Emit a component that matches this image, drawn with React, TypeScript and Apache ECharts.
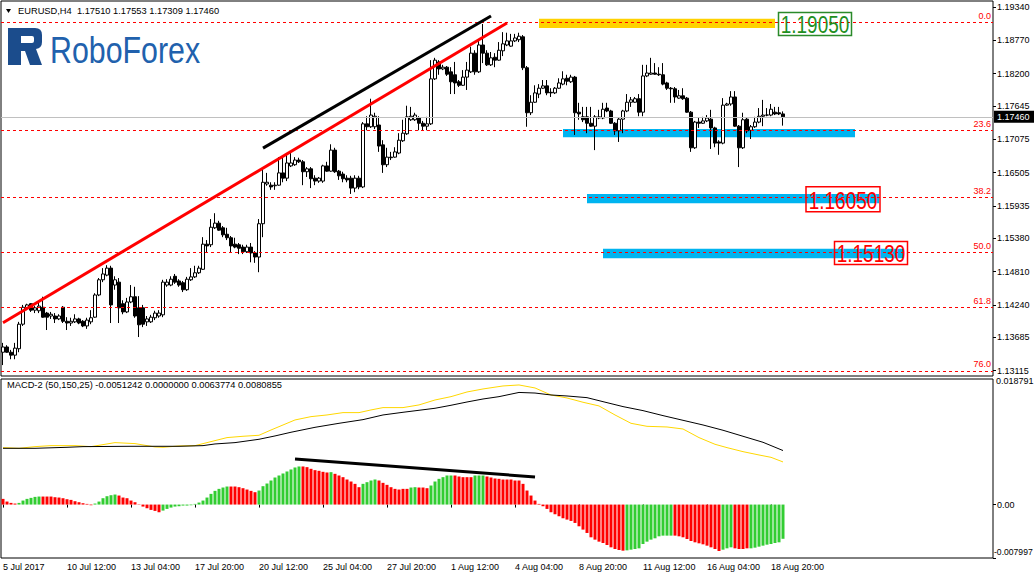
import React, { useEffect, useRef } from "react";
import * as echarts from "echarts";

const FONT = "'Liberation Sans', Arial, sans-serif";
const FS = 9;

// ---------- DATA ----------
// EURUSD H4 candles: [open, high, low, close]
const candles: number[][] = [
  [1.1343,1.1359,1.1321,1.1352],[1.1352,1.1355,1.1342,1.1343],[1.1343,1.1347,1.1331,1.1338],[1.1338,1.1359,1.1331,1.1350],
  [1.1349,1.1395,1.1343,1.1391],[1.1391,1.1424,1.1388,1.1420],[1.1419,1.1426,1.1415,1.1424],[1.1426,1.1427,1.1412,1.1415],
  [1.1415,1.1422,1.1410,1.1419],[1.1414,1.1429,1.1410,1.1422],[1.1420,1.1438,1.1402,1.1403],[1.1410,1.1412,1.1381,1.1403],
  [1.1405,1.1412,1.1400,1.1408],[1.1405,1.1410,1.1393,1.1400],[1.1400,1.1408,1.1398,1.1405],[1.1420,1.1422,1.1393,1.1396],
  [1.1396,1.1403,1.1381,1.1393],[1.1393,1.1402,1.1388,1.1396],[1.1395,1.1408,1.1393,1.1400],[1.1400,1.1402,1.1391,1.1393],
  [1.1396,1.1398,1.1386,1.1388],[1.1388,1.1402,1.1383,1.1398],[1.1395,1.1415,1.1391,1.1402],[1.1403,1.1444,1.1402,1.1441],
  [1.1441,1.1470,1.1439,1.1467],[1.1467,1.1487,1.1463,1.1477],[1.1475,1.1492,1.1473,1.1487],[1.1487,1.1491,1.1393,1.1424],
  [1.1458,1.1473,1.1450,1.1467],[1.1463,1.1470,1.1393,1.1419],[1.1426,1.1432,1.1408,1.1412],[1.1412,1.1436,1.1410,1.1429],
  [1.1429,1.1458,1.1427,1.1438],[1.1438,1.1455,1.1402,1.1405],[1.1419,1.1439,1.1369,1.1390],[1.1419,1.1424,1.1386,1.1391],
  [1.1395,1.1405,1.1388,1.1400],[1.1395,1.1407,1.1393,1.1403],[1.1402,1.1414,1.1398,1.1410],[1.1405,1.1415,1.1402,1.1410],
  [1.1407,1.1467,1.1403,1.1463],[1.1458,1.1468,1.1455,1.1463],[1.1458,1.1473,1.1456,1.1468],[1.1473,1.1477,1.1460,1.1463],
  [1.1465,1.1468,1.1455,1.1458],[1.1462,1.1465,1.1446,1.1450],[1.1450,1.1472,1.1448,1.1468],[1.1467,1.1487,1.1465,1.1472],
  [1.1472,1.1491,1.1470,1.1479],[1.1479,1.1491,1.1477,1.1487],[1.1485,1.1540,1.1484,1.1528],[1.1528,1.1535,1.1513,1.1525],
  [1.1527,1.1571,1.1523,1.1557],[1.1556,1.1581,1.1554,1.1564],[1.1564,1.1568,1.1551,1.1552],[1.1556,1.1559,1.1540,1.1544],
  [1.1545,1.1556,1.1535,1.1539],[1.1539,1.1542,1.1513,1.1525],[1.1528,1.1539,1.1521,1.1523],[1.1527,1.1530,1.1511,1.1521],
  [1.1523,1.1527,1.1511,1.1515],[1.1515,1.1527,1.1513,1.1523],[1.1523,1.1530,1.1497,1.1513],[1.1513,1.1516,1.1496,1.1506],
  [1.1506,1.1571,1.1480,1.1563],[1.1563,1.1660,1.1540,1.1634],[1.1631,1.1650,1.1628,1.1634],[1.1629,1.1634,1.1621,1.1626],
  [1.1628,1.1634,1.1621,1.1629],[1.1629,1.1677,1.1628,1.1650],[1.1650,1.1677,1.1634,1.1641],[1.1641,1.1684,1.1636,1.1667],
  [1.1662,1.1684,1.1660,1.1667],[1.1664,1.1677,1.1662,1.1672],[1.1672,1.1676,1.1667,1.1669],[1.1669,1.1672,1.1629,1.1652],
  [1.1652,1.1660,1.1643,1.1657],[1.1657,1.1660,1.1624,1.1640],[1.1641,1.1646,1.1629,1.1636],[1.1636,1.1643,1.1633,1.1641],
  [1.1636,1.1664,1.1633,1.1662],[1.1662,1.1669,1.1652,1.1653],[1.1653,1.1699,1.1652,1.1689],[1.1689,1.1693,1.1650,1.1652],
  [1.1653,1.1655,1.1638,1.1645],[1.1648,1.1652,1.1634,1.1640],[1.1641,1.1646,1.1634,1.1638],[1.1641,1.1645,1.1614,1.1624],
  [1.1624,1.1646,1.1617,1.1641],[1.1641,1.1645,1.1622,1.1626],[1.1626,1.1737,1.1624,1.1734],[1.1734,1.1747,1.1723,1.1729],
  [1.1729,1.1777,1.1727,1.1749],[1.1729,1.1753,1.1725,1.1747],[1.1732,1.1747,1.1686,1.1696],[1.1698,1.1706,1.1650,1.1664],
  [1.1664,1.1693,1.1660,1.1677],[1.1677,1.1686,1.1672,1.1676],[1.1677,1.1694,1.1676,1.1686],[1.1684,1.1718,1.1682,1.1706],
  [1.1705,1.1741,1.1703,1.1718],[1.1717,1.1765,1.1715,1.1746],[1.1741,1.1763,1.1739,1.1747],[1.1741,1.1753,1.1739,1.1749],
  [1.1744,1.1747,1.1723,1.1735],[1.1735,1.1739,1.1722,1.1730],[1.1730,1.1746,1.1723,1.1734],[1.1734,1.1843,1.1732,1.1811],
  [1.1811,1.1847,1.1809,1.1843],[1.1840,1.1843,1.1818,1.1828],[1.1828,1.1835,1.1826,1.1831],[1.1831,1.1833,1.1816,1.1819],
  [1.1823,1.1831,1.1785,1.1806],[1.1818,1.1840,1.1785,1.1804],[1.1806,1.1809,1.1797,1.1800],[1.1800,1.1826,1.1799,1.1814],
  [1.1814,1.1840,1.1792,1.1826],[1.1823,1.1866,1.1821,1.1855],[1.1855,1.1860,1.1818,1.1823],[1.1823,1.1878,1.1821,1.1869],
  [1.1869,1.1905,1.1838,1.1855],[1.1855,1.1860,1.1833,1.1835],[1.1835,1.1857,1.1833,1.1847],[1.1848,1.1855,1.1831,1.1843],
  [1.1843,1.1874,1.1842,1.1860],[1.1859,1.1891,1.1850,1.1871],[1.1869,1.1890,1.1867,1.1876],[1.1867,1.1888,1.1866,1.1876],
  [1.1876,1.1888,1.1874,1.1881],[1.1878,1.1890,1.1874,1.1884],[1.1883,1.1886,1.1826,1.1830],[1.1830,1.1833,1.1729,1.1753],
  [1.1753,1.1783,1.1749,1.1771],[1.1771,1.1800,1.1770,1.1787],[1.1785,1.1802,1.1778,1.1795],[1.1795,1.1809,1.1794,1.1799],
  [1.1799,1.1809,1.1783,1.1787],[1.1788,1.1795,1.1780,1.1787],[1.1787,1.1797,1.1785,1.1795],[1.1795,1.1812,1.1794,1.1804],
  [1.1802,1.1824,1.1800,1.1811],[1.1812,1.1818,1.1800,1.1807],[1.1806,1.1818,1.1804,1.1814],[1.1814,1.1816,1.1715,1.1753],
  [1.1754,1.1770,1.1741,1.1751],[1.1746,1.1763,1.1737,1.1741],[1.1746,1.1763,1.1718,1.1735],[1.1735,1.1763,1.1729,1.1730],
  [1.1730,1.1749,1.1689,1.1746],[1.1744,1.1758,1.1742,1.1746],[1.1744,1.1770,1.1742,1.1759],[1.1761,1.1770,1.1754,1.1756],
  [1.1756,1.1758,1.1734,1.1735],[1.1735,1.1737,1.1715,1.1722],[1.1722,1.1744,1.1703,1.1742],[1.1742,1.1758,1.1718,1.1756],
  [1.1756,1.1785,1.1754,1.1771],[1.1771,1.1780,1.1763,1.1775],[1.1771,1.1780,1.1770,1.1777],[1.1777,1.1785,1.1747,1.1754],
  [1.1754,1.1835,1.1747,1.1816],[1.1816,1.1835,1.1814,1.1821],[1.1819,1.1847,1.1818,1.1821],[1.1821,1.1838,1.1818,1.1819],
  [1.1819,1.1831,1.1816,1.1818],[1.1818,1.1838,1.1800,1.1802],[1.1804,1.1806,1.1792,1.1795],[1.1795,1.1797,1.1770,1.1794],
  [1.1794,1.1797,1.1770,1.1780],[1.1778,1.1792,1.1777,1.1782],[1.1782,1.1795,1.1775,1.1777],[1.1778,1.1780,1.1753,1.1754],
  [1.1754,1.1756,1.1686,1.1693],[1.1693,1.1739,1.1691,1.1737],[1.1737,1.1744,1.1727,1.1735],[1.1735,1.1746,1.1734,1.1739],
  [1.1739,1.1749,1.1737,1.1744],[1.1742,1.1758,1.1691,1.1727],[1.1727,1.1729,1.1694,1.1701],[1.1703,1.1706,1.1681,1.1701],
  [1.1701,1.1778,1.1699,1.1766],[1.1766,1.1770,1.1765,1.1768],[1.1768,1.1790,1.1765,1.1780],[1.1780,1.1790,1.1729,1.1730],
  [1.1730,1.1732,1.1660,1.1693],[1.1693,1.1753,1.1691,1.1741],[1.1742,1.1744,1.1718,1.1722],[1.1723,1.1732,1.1708,1.1729],
  [1.1729,1.1746,1.1727,1.1737],[1.1737,1.1761,1.1735,1.1747],[1.1747,1.1775,1.1730,1.1749],[1.1749,1.1761,1.1747,1.1749],
  [1.1749,1.1768,1.1747,1.1759],[1.1754,1.1763,1.1749,1.1751],[1.1753,1.1763,1.1749,1.1751],[1.17510,1.17553,1.17309,1.17460],
];

const priceTicks = [1.1934, 1.1877, 1.182, 1.17645, 1.17075, 1.16505, 1.15935, 1.1538, 1.1481, 1.1424, 1.13685, 1.13115];

const timeTickIdx = [0, 16, 32, 48, 64, 80, 96, 112, 128, 144, 160, 176, 192];
const timeLabels = ["5 Jul 2017", "10 Jul 12:00", "13 Jul 04:00", "17 Jul 20:00", "20 Jul 12:00", "25 Jul 04:00",
  "27 Jul 20:00", "1 Aug 12:00", "4 Aug 04:00", "8 Aug 20:00", "11 Aug 12:00", "16 Aug 04:00", "18 Aug 20:00"];

const fibLevels = [1.19071, 1.17222, 1.16075, 1.15141, 1.14199, 1.13109];
const fibNames = ["0.0", "23.6", "38.2", "50.0", "61.8", "76.0"];

// zones: [fromBar, toBar, topPrice, bottomPrice]
const zones = [
  [134, 193, 1.1914, 1.1898],
  [140, 213, 1.1725, 1.1711],
  [146, 219, 1.1614, 1.1598],
  [150, 225, 1.1520, 1.1504],
];

const priceLabels = [
  { text: "1.19050", bar: 203, price: 1.1905 },
  { text: "1.16050", bar: 210, price: 1.1605 },
  { text: "1.15130", bar: 217, price: 1.1513 },
];

const redTrend = [[0, 1.13935], [126, 1.19066]];
const blackTrend = [[65, 1.16925], [122, 1.19186]];

// MACD-2 (50,150,25)
const histValues = [
  0.00085,0.00045,0.00025,0.00015,0.00025,0.0006,0.00085,0.001,0.00115,0.0012,
  0.0012,0.0012,0.0012,0.0011,0.00105,0.00095,0.0008,0.0007,0.0005,0.00035,
  0.0002,0.0001,-0.0001,0.00015,0.00045,0.00095,0.00125,0.0014,0.0015,0.00135,
  0.00105,0.00095,0.0006,0.00035,0.00005,-0.0003,-0.00055,-0.0008,-0.00095,-0.00115,
  -0.0009,-0.00065,-0.00045,-0.0003,-0.00025,-0.00015,-0.00015,-0.0001,0.0001,0.0003,
  0.0006,0.00105,0.0016,0.00205,0.00235,0.00255,0.0027,0.0027,0.0027,0.0026,
  0.00245,0.00225,0.00205,0.00185,0.0021,0.00275,0.00315,0.0036,0.00405,0.00435,
  0.00465,0.00495,0.00525,0.00555,0.0057,0.0057,0.0056,0.00535,0.00515,0.00505,
  0.0049,0.0048,0.00485,0.0046,0.00435,0.0041,0.00375,0.00345,0.0031,0.0026,
  0.0031,0.00335,0.0036,0.00375,0.0036,0.00325,0.00295,0.0026,0.00235,0.00225,
  0.00235,0.00235,0.00255,0.0026,0.00255,0.00255,0.00245,0.00285,0.00345,0.00385,
  0.0041,0.00435,0.00435,0.00435,0.0042,0.0041,0.0041,0.0041,0.00435,0.00435,
  0.00435,0.0042,0.00405,0.0039,0.00385,0.00375,0.00375,0.00375,0.0036,0.0036,
  0.0031,0.0021,0.00135,0.0006,0.0001,-0.00025,-0.00065,-0.00115,-0.00145,-0.00175,
  -0.00205,-0.00225,-0.00245,-0.00275,-0.00325,-0.00375,-0.00425,-0.0049,-0.00525,-0.00555,
  -0.00575,-0.00605,-0.0064,-0.00665,-0.0068,-0.0069,-0.00685,-0.00675,-0.00665,-0.00655,
  -0.0059,-0.00555,-0.00525,-0.00505,-0.00475,-0.00465,-0.00465,-0.00465,-0.00465,-0.00475,
  -0.0049,-0.00515,-0.00545,-0.00565,-0.0058,-0.00595,-0.00615,-0.0064,-0.00665,-0.00695,
  -0.00675,-0.00655,-0.0064,-0.00655,-0.00665,-0.00665,-0.00655,-0.00655,-0.00645,-0.0063,
  -0.00615,-0.006,-0.0059,-0.00575,-0.00565,-0.0051242,
];
const histColors =
  "rrrrgggggg" + "rrrrrrrrrr" + "rrrggggggr" + "rrrrrrrrrr" + "gggggggggg" +
  "gggggggrrr" + "rrrrgggggg" + "gggggrrrrr" + "rrgrrrrrrr" + "ggggrrrrrr" +
  "rrggrrrggg" + "gggrrrrrgg" + "grrrrrrrrr" + "rrrrrrrrrr" + "rrrrrrrrrr" +
  "rrrrrrgggg" + "ggggggggrr" + "rrrrrrrrrr" + "gggrrrrggg" + "gggggg";

const macdLine = [
  [0,0.00842],[8,0.00842],[16,0.00857],[20,0.00867],[32,0.00872],[44,0.00872],[50,0.00882],[53,0.00907],
  [58,0.00927],[64,0.00977],[68,0.01027],[72,0.01082],[78,0.01156],[84,0.01216],[90,0.01271],[95,0.01341],
  [100,0.01381],[108,0.01441],[112,0.01486],[116,0.01535],[120,0.0158],[124,0.01615],[129,0.01678],[133,0.01669],
  [137,0.0164],[141,0.01625],[146,0.016],[150,0.0154],[155,0.01466],[160,0.01406],[165,0.01331],[170,0.01261],
  [175,0.01191],[180,0.01112],[185,0.01022],[190,0.00932],[195,0.0080855],
];
const signalLine = [
  [0,0.00852],[4,0.00842],[8,0.00867],[12,0.00882],[18,0.00882],[22,0.00867],[28,0.00927],[33,0.00912],
  [38,0.00862],[40,0.00857],[44,0.00877],[48,0.00882],[52,0.00942],[56,0.01002],[60,0.01022],[64,0.01037],
  [67,0.01116],[70,0.01191],[73,0.01266],[77,0.01316],[81,0.01341],[85,0.01376],[89,0.01376],[92,0.01416],
  [95,0.01451],[100,0.01451],[104,0.01491],[108,0.01565],[112,0.01615],[116,0.01685],[120,0.0173],[125,0.01775],
  [129,0.0179],[133,0.01745],[137,0.0164],[141,0.01595],[145,0.01531],[149,0.01476],[153,0.01341],[157,0.01216],
  [161,0.01171],[166,0.01161],[170,0.01131],[174,0.01002],[178,0.00902],[181,0.00852],[185,0.00792],[189,0.00742],
  [192,0.00707],[195,0.0063774],
];
const macdTrend = [[73, 0.00682], [133, 0.00413]];
const macdRange = [-0.007997, 0.018791];
const priceRange = [1.13023, 1.19443];

// ---------- LAYOUT / STYLE ----------
const SLOTS = 248;
const zoneColors = ["#FFD200", "#00B4F0", "#00B4F0", "#00B4F0"];
const labelBoxStyles = [
  { w: 73, h: 23, color: "#1f8f1f", border: "#2a8a2a" },
  { w: 74, h: 25, color: "#ff0000", border: "#ff0000" },
  { w: 73, h: 23, color: "#ff0000", border: "#ff0000" },
];

let logoRegistered = false;
function ensureLogo() {
  if (logoRegistered) return;
  echarts.graphic.registerShape(
    "rfLogo",
    echarts.graphic.extendPath(
      "M0,0 H27 Q34,0 34,7 V14 Q34,20 28,21 L34,37 H22 L17,23 H13 V37 H0 Z M13,8 V15 H24 Q26,15 26,13 V10 Q26,8 24,8 Z",
      {}
    ) as any
  );
  logoRegistered = true;
}

function txt(x: number, y: number, text: string, extra: any = {}) {
  return {
    type: "text",
    x,
    y,
    silent: true,
    style: {
      text,
      fill: "#000",
      fontSize: FS,
      fontFamily: FONT,
      textVerticalAlign: "middle",
      verticalAlign: "middle",
      ...extra,
    },
  };
}

export default function App() {
  const ref = useRef<HTMLDivElement>(null);

  useEffect(() => {
    document.body.style.margin = "0";
    ensureLogo();
    const chart = echarts.init(ref.current!, undefined, { renderer: "svg" });
    const cats = Array.from({ length: SLOTS }, (_, i) => String(i));
    const isTimeTick = (i: number) => timeTickIdx.indexOf(i) >= 0;
    const last = candles[candles.length - 1];

    const fibMarks = fibLevels.map((lvl, k) => ({
      yAxis: lvl,
      lineStyle: { color: "#ff0000", type: [3, 3], width: 1 },
      label: { show: true, position: "insideEndTop", formatter: fibNames[k], color: "#ff0000", fontSize: FS, fontFamily: FONT, distance: 2 },
    }));
    const trend = (pts: number[][], color: string) => [
      { coord: pts[0], lineStyle: { color, width: 3, type: "solid" }, label: { show: false } },
      { coord: pts[1], lineStyle: { color, width: 3, type: "solid" }, label: { show: false } },
    ];

    const option: any = {
      animation: false,
      backgroundColor: "#fff",
      textStyle: { fontFamily: FONT },
      grid: [
        { left: 1, top: 1, width: 992, height: 375, show: true, borderColor: "#000", borderWidth: 1, backgroundColor: "transparent" },
        { left: 1, top: 379, width: 992, height: 179, show: true, borderColor: "#000", borderWidth: 1, backgroundColor: "transparent" },
      ],
      xAxis: [
        { type: "category", gridIndex: 0, data: cats, boundaryGap: true, axisLine: { show: false }, axisTick: { show: false }, axisLabel: { show: false }, splitLine: { show: false } },
        {
          type: "category", gridIndex: 1, data: cats, boundaryGap: true,
          axisLine: { show: false },
          axisTick: { show: true, alignWithLabel: true, interval: isTimeTick, length: 3, lineStyle: { color: "#000" } },
          axisLabel: {
            show: true, interval: isTimeTick, align: "left", fontSize: FS, color: "#000", margin: 4, fontFamily: FONT,
            formatter: (_v: string, i: number) => timeLabels[timeTickIdx.indexOf(i)] ?? "",
          },
          splitLine: { show: false },
        },
      ],
      yAxis: [
        {
          type: "value", gridIndex: 0, position: "right", min: priceRange[0], max: priceRange[1],
          axisLine: { show: false }, splitLine: { show: false },
          axisTick: { show: true, customValues: priceTicks, length: 3, lineStyle: { color: "#000" } },
          axisLabel: { show: false },
        },
        {
          type: "value", gridIndex: 1, position: "right", min: macdRange[0], max: macdRange[1],
          axisLine: { show: false }, splitLine: { show: false },
          axisTick: { show: true, customValues: [0, macdRange[0]], length: 3, lineStyle: { color: "#000" } },
          axisLabel: { show: true, customValues: [0], formatter: () => "0.00", fontSize: FS, color: "#000", margin: 4, fontFamily: FONT },
        },
      ],
      series: [
        {
          type: "candlestick",
          xAxisIndex: 0, yAxisIndex: 0,
          barWidth: 3,
          data: candles.map(([o, h, l, c]) => [o, c, l, h]),
          itemStyle: { color: "#ffffff", color0: "#000000", borderColor: "#000000", borderColor0: "#000000", borderWidth: 1 },
          markArea: {
            silent: true,
            data: zones.map((z, k) => [
              { coord: [z[0], z[2]], itemStyle: { color: zoneColors[k], opacity: 1 } },
              { coord: [z[1], z[3]] },
            ]),
          },
          markLine: {
            silent: true,
            symbol: ["none", "none"],
            precision: 6,
            animation: false,
            data: [
              {
                yAxis: last[3],
                lineStyle: { color: "#c0c0c0", type: "solid", width: 1 },
                label: { show: true, position: "end", formatter: last[3].toFixed(5), backgroundColor: "#000", color: "#fff", padding: [2, 5, 1, 3], fontSize: FS, fontFamily: FONT, distance: 1 },
              },
              ...fibMarks,
              trend(redTrend, "#ff0000"),
              trend(blackTrend, "#000000"),
            ],
          },
        },
        {
          type: "bar",
          xAxisIndex: 1, yAxisIndex: 1,
          barWidth: 3,
          data: histValues.map((v, i) => ({ value: v, itemStyle: { color: histColors[i] === "g" ? "#32CD32" : "#FF0000" } })),
          markLine: {
            silent: true,
            symbol: ["none", "none"],
            precision: 8,
            data: [trend(macdTrend, "#000000")],
          },
        },
        { type: "line", xAxisIndex: 1, yAxisIndex: 1, data: signalLine, symbol: "none", lineStyle: { color: "#FFD700", width: 1 }, z: 3 },
        { type: "line", xAxisIndex: 1, yAxisIndex: 1, data: macdLine, symbol: "none", lineStyle: { color: "#000000", width: 1 }, z: 4 },
      ],
    };

    chart.setOption(option);

    const boxes: any[] = [];
    priceLabels.forEach((b, k) => {
      const p = chart.convertToPixel({ gridIndex: 0 }, [b.bar, b.price]) as number[];
      const st = labelBoxStyles[k];
      boxes.push({
        type: "rect", silent: true, z: 10,
        shape: { x: p[0] - st.w / 2, y: p[1] - st.h / 2, width: st.w, height: st.h },
        style: { fill: "none", stroke: st.border, lineWidth: 1.5 },
      });
      boxes.push({
        type: "text", silent: true, z: 10, x: p[0], y: p[1] + 1, scaleX: 0.79,
        style: { text: b.text, fill: st.color, fontSize: 24, fontFamily: FONT, textAlign: "center", align: "center", textVerticalAlign: "middle", verticalAlign: "middle" },
      });
    });

    // price axis labels, positioned through the axis scale
    const gridRight = 993;
    const priceTexts = priceTicks.map((v) => {
      const p = chart.convertToPixel({ yAxisIndex: 0 }, v) as unknown as number;
      return txt(gridRight + 4, p, v.toFixed(5));
    });

    const header = `EURUSD,H4  ${last.map((v) => v.toFixed(5)).join(" ")}`;
    const macdTitle = `MACD-2 (50,150,25) ${histValues[histValues.length - 1].toFixed(7)} ${(0).toFixed(7)} ${signalLine[signalLine.length - 1][1].toFixed(7)} ${macdLine[macdLine.length - 1][1].toFixed(7)}`;

    chart.setOption({
      graphic: [
        { type: "polygon", silent: true, shape: { points: [[6, 9], [11, 9], [8.5, 13]] }, style: { fill: "#000" } },
        txt(18, 11, header, { fontSize: 9.3 }),
        { type: "rfLogo", x: 8, y: 28, silent: true, style: { fill: "#1b4c8c" } },
        {
          type: "text", x: 50, y: 50, scaleX: 0.82, silent: true,
          style: { text: "RoboForex", fill: "#2161ad", fontSize: 37, fontFamily: FONT, textVerticalAlign: "middle", verticalAlign: "middle" },
        },
        ...priceTexts,
        txt(7, 385, macdTitle, { fontSize: 9.3 }),
        txt(996, 381, macdRange[1].toFixed(6)),
        txt(994, 551.5, macdRange[0].toFixed(6), { fontSize: 8.6 }),
        ...boxes,
      ],
    });

    return () => chart.dispose();
  }, []);

  return <div ref={ref} style={{ position: "absolute", left: 0, top: 0, width: 1034, height: 580, background: "#fff" }} />;
}
